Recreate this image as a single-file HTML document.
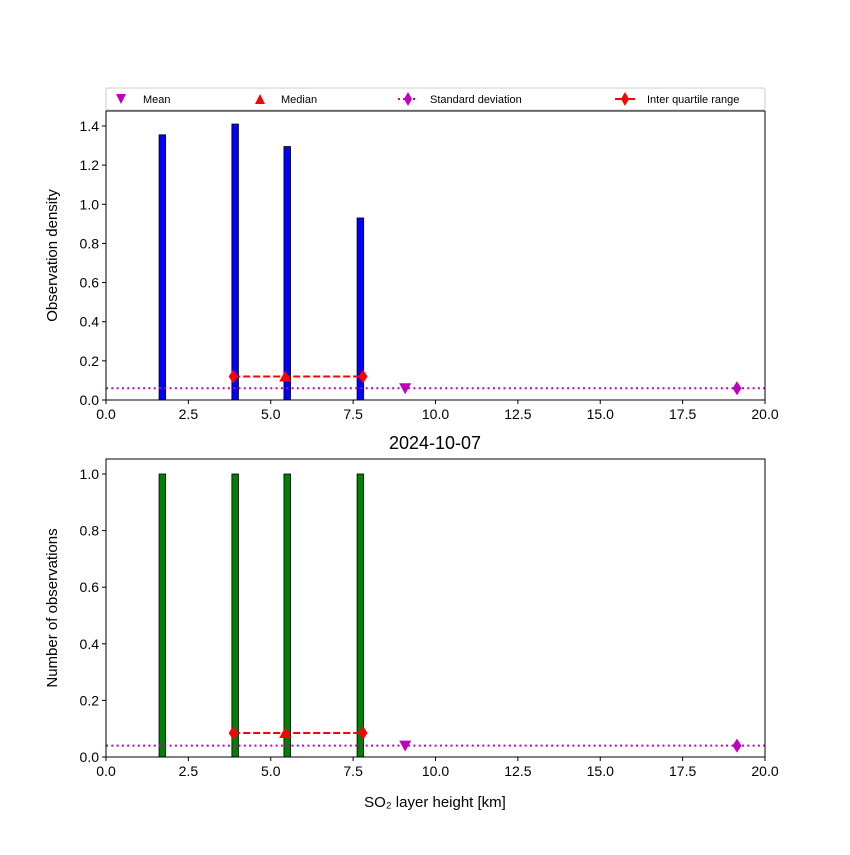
<!DOCTYPE html>
<html><head><meta charset="utf-8"><style>
body{margin:0;background:#fff;}
svg{font-family:"Liberation Sans","DejaVu Sans",sans-serif;}
</style></head><body>
<svg id="c" width="850" height="850" xmlns="http://www.w3.org/2000/svg"></svg>
<script>
const binLeft=[1.61,3.82,5.4,7.62];
const binWidth=0.2;
const densityValues=[1.355,1.41,1.295,0.93];
const countValues=[1,1,1,1];
const xTicks=[0,2.5,5,7.5,10,12.5,15,17.5,20];
const topYTicks=[0,0.2,0.4,0.6,0.8,1.0,1.2,1.4];
const botYTicks=[0,0.2,0.4,0.6,0.8,1.0];
const meanVal=[9.08];
const medianVal=[5.44];
const q1q3=[3.86,7.8];
const stdPos=[19.15];
const topMarkerY=[0.06,0.12];
const botMarkerY=[0.04,0.085];
const NS="http://www.w3.org/2000/svg";
const svg=document.getElementById('c');
function el(t,a,p){const e=document.createElementNS(NS,t);for(const k in a)e.setAttribute(k,a[k]);(p||svg).appendChild(e);return e;}
const X0=106,X1=765;
const sx=v=>X0+(X1-X0)*v/20;
function panel(name,yTop,yBot,yMax,ticks,vals,color,my,ylabel){
  const g=el('g',{});
  
  
  const sy=v=>yBot-(yBot-yTop)*v/yMax;
  vals.forEach((v,i)=>{
    const r=el('rect',{x:sx(binLeft[i]),y:sy(v),width:sx(binLeft[i]+binWidth)-sx(binLeft[i]),height:sy(0)-sy(v),fill:color,stroke:'#000','stroke-width':0.8},g);
    
    
  });
  const sd=el('line',{x1:X0,x2:X1,y1:sy(my[0]),y2:sy(my[0]),stroke:'#bf00bf','stroke-width':2,'stroke-dasharray':'2,3.3'},g);
  
  
  const dm=(x,y,c)=>el('path',{d:`M${x},${y-7}L${x+4.5},${y}L${x},${y+7}L${x-4.5},${y}Z`,fill:c},g);
  const sdm=dm(sx(stdPos[0]),sy(my[0]),'#bf00bf');
  
  
  const iq=el('line',{x1:sx(q1q3[0]),x2:sx(q1q3[1]),y1:sy(my[1]),y2:sy(my[1]),stroke:'#f00','stroke-width':2,'stroke-dasharray':'7,3'},g);
  
  
  q1q3.forEach(q=>{const d=dm(sx(q),sy(my[1]),'#f00');
    
    });
  const mx=sx(medianVal[0]),myy=sy(my[1]);
  const md=el('path',{d:`M${mx},${myy-6}L${mx+6},${myy+5}L${mx-6},${myy+5}Z`,fill:'#f00'},g);
  
  
  const ax=sx(meanVal[0]),ay=sy(my[0]);
  const mn=el('path',{d:`M${ax-6},${ay-5}L${ax+6},${ay-5}L${ax},${ay+6}Z`,fill:'#bf00bf'},g);
  
  
  const fr=el('rect',{x:X0,y:yTop,width:X1-X0,height:yBot-yTop,fill:'none',stroke:'#000','stroke-width':1},g);
  
  
  xTicks.forEach(t=>{el('line',{x1:sx(t),x2:sx(t),y1:yBot,y2:yBot+4,stroke:'#000'},g);
    const tx=el('text',{x:sx(t),y:yBot+19,'text-anchor':'middle','font-size':14},g);tx.textContent=t.toFixed(1);
    
    });
  ticks.forEach(t=>{el('line',{x1:X0-4,x2:X0,y1:sy(t),y2:sy(t),stroke:'#000'},g);
    const tx=el('text',{x:X0-7,y:sy(t)+5,'text-anchor':'end','font-size':14},g);tx.textContent=t.toFixed(1);
    
    });
  const yl=el('text',{x:0,y:0,transform:`translate(57,${(yTop+yBot)/2}) rotate(-90)`,'text-anchor':'middle','font-size':15},g);
  yl.textContent=ylabel;
  
  
}
panel('density-panel',111,400,1.4/(274/289),topYTicks,densityValues,'#0000ff',topMarkerY,'Observation density');
panel('count-panel',459,757,1.0/(283/298),botYTicks,countValues,'#008000',botMarkerY,'Number of observations');
const tt=el('text',{x:435,y:449,'text-anchor':'middle','font-size':18});tt.textContent='2024-10-07';


const xl=el('text',{x:435,y:807,'text-anchor':'middle','font-size':15});xl.textContent='SO₂ layer height [km]';


const lg=el('g',{});


el('rect',{x:106,y:88,width:659,height:22,fill:'#fff',stroke:'#ccc',rx:2},lg);
const ly=99;
el('path',{d:`M116,${ly-5}L126,${ly-5}L121,${ly+5}Z`,fill:'#bf00bf'},lg);
el('path',{d:`M260,${ly-5}L265,${ly+5}L255,${ly+5}Z`,fill:'#f00'},lg);
el('line',{x1:398,x2:418,y1:ly,y2:ly,stroke:'#bf00bf','stroke-width':2,'stroke-dasharray':'2,3'},lg);
el('path',{d:`M408,${ly-7}L412,${ly}L408,${ly+7}L404,${ly}Z`,fill:'#bf00bf'},lg);
el('line',{x1:615,x2:635,y1:ly,y2:ly,stroke:'#f00','stroke-width':2},lg);
el('path',{d:`M625,${ly-7}L629,${ly}L625,${ly+7}L621,${ly}Z`,fill:'#f00'},lg);
[['Mean',143],['Median',281],['Standard deviation',430],['Inter quartile range',647]].forEach(([s,x])=>{
  const t=el('text',{x:x,y:ly+4,'font-size':11},lg);t.textContent=s;
  
  
});
</script>
</body></html>
